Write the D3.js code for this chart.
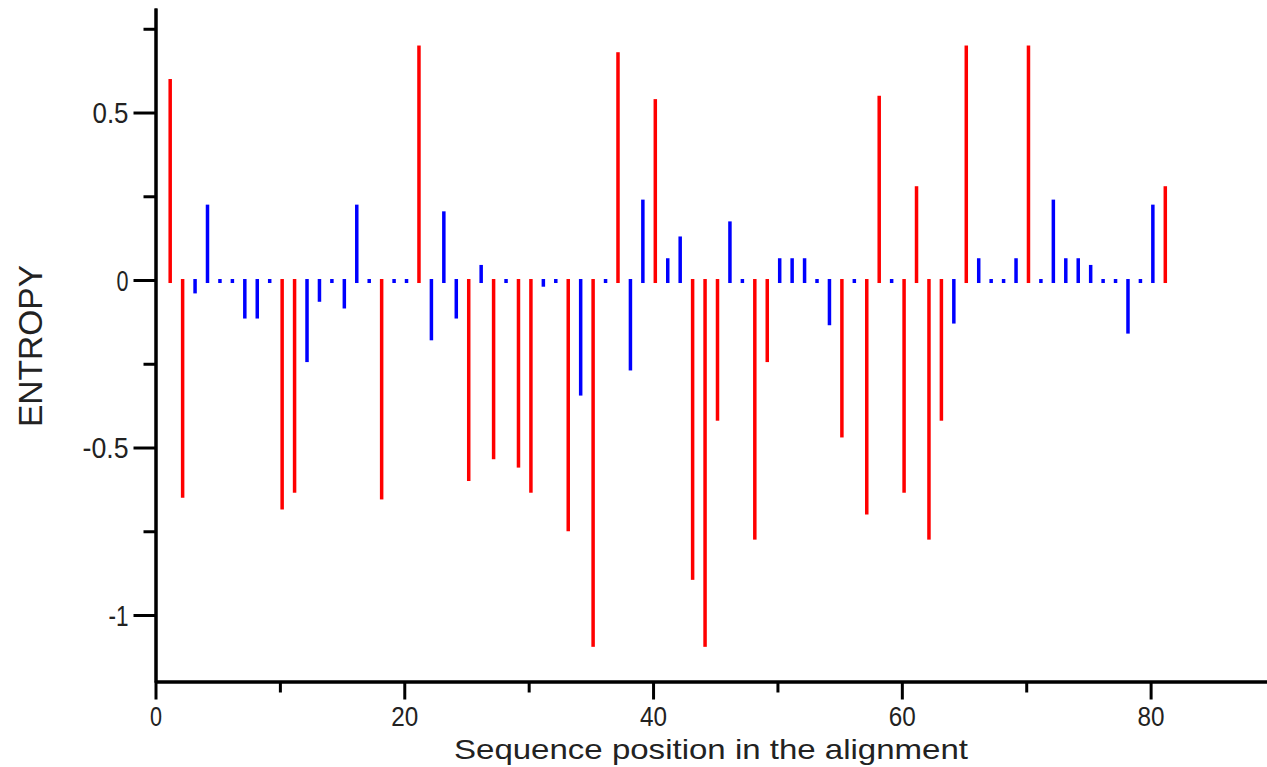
<!DOCTYPE html>
<html>
<head>
<meta charset="utf-8">
<script src="https://cdn.jsdelivr.net/npm/d3@7"></script>
<style>
  html, body { margin: 0; padding: 0; background: #fff; }
  svg { display: block; }
</style>
</head>
<body>
<div id="chart"></div>
<script>
// entropy per alignment position (positions 1..81)
const positions = d3.range(1, 82);
const entropy = [
   0.60, -0.65, -0.04,  0.225, 0,     0,    -0.115, -0.115, 0,    -0.685,
  -0.635,-0.245,-0.065, 0,    -0.085, 0.225, 0,    -0.655, 0,     0,
   0.70, -0.18,  0.205,-0.115,-0.60,  0.045,-0.535, 0,    -0.56, -0.635,
  -0.02,  0,    -0.75, -0.345,-1.095, 0,     0.68, -0.27,  0.24,  0.54,
   0.065, 0.13, -0.895,-1.095,-0.42,  0.175, 0,    -0.775,-0.245, 0.065,
   0.065, 0.065, 0,    -0.135,-0.47,  0,    -0.70,  0.55,  0,    -0.635,
   0.28, -0.775,-0.42, -0.13,  0.70,  0.065, 0,     0,     0.065, 0.70,
   0,     0.24,  0.065, 0.065, 0.045, 0,     0,    -0.16,  0,     0.225,
   0.28
];
// 1 = red (highlighted) position, 0 = blue
const highlighted = [
  1,1,0,0,0,0,0,0,0,1,
  1,0,0,0,0,0,0,1,0,0,
  1,0,0,0,1,0,1,0,1,1,
  0,0,1,0,1,0,1,0,0,1,
  0,0,1,1,1,0,0,1,1,0,
  0,0,0,0,1,0,1,1,0,1,
  1,1,1,0,1,0,0,0,0,1,
  0,0,0,0,0,0,0,0,0,0,
  1
];
const xMajor = [0, 20, 40, 60, 80];
const xMinor = [10, 30, 50, 70];
const yMajor = [-1, -0.5, 0, 0.5];
const yMinor = [-0.75, -0.25, 0.25, 0.75];
const yLabels = ['-1', '-0.5', '0', '0.5'];

const W = 1267, H = 767;
const svg = d3.select('#chart').append('svg')
    .attr('width', W).attr('height', H)
    .style('font-family', '"Liberation Sans", Arial, sans-serif');

const x = d3.scaleLinear().domain([0, 90]).range([155.5, 1275]);
const y = d3.scaleLinear().domain([-1.2, 0.812]).range([682, 8]);
const y0 = y(0);

// bars (zero values still show a small stub)
svg.append('g').selectAll('rect')
    .data(positions)
    .join('rect')
    .attr('x', (d) => x(d) + 0.5)
    .attr('width', 3.5)
    .attr('y', (d, i) => Math.min(y(entropy[i]), y0 - 1))
    .attr('height', (d, i) => Math.max(y(entropy[i]), y0 + 3) - Math.min(y(entropy[i]), y0 - 1))
    .attr('fill', (d, i) => highlighted[i] ? '#ff0000' : '#0000ff');

// y axis
const yAxisG = svg.append('g').attr('transform', 'translate(155.5,0)');
yAxisG.call(d3.axisLeft(y).tickValues(yMajor).tickSize(22).tickSizeOuter(0)
    .tickFormat((d, i) => yLabels[i]));
yAxisG.append('g').call(d3.axisLeft(y).tickValues(yMinor).tickSize(12).tickSizeOuter(0).tickFormat(''));
yAxisG.selectAll('path.domain').attr('stroke', '#000').attr('stroke-width', 3);
yAxisG.selectAll('.tick line').attr('stroke', '#000').attr('stroke-width', 3);
yAxisG.selectAll('.tick text')
    .attr('x', -27).attr('dy', '0.36em')
    .attr('font-size', 29).attr('fill', '#222')
    .attr('font-family', '"Liberation Sans", Arial, sans-serif')
    .each(function (d) {
        const len = d === 0 ? 12 : d === -1 ? 20 : d === 0.5 ? 36 : 46;
        d3.select(this).attr('textLength', len).attr('lengthAdjust', 'spacingAndGlyphs');
    });

// x axis
const xAxisG = svg.append('g').attr('transform', 'translate(0,681.5)');
xAxisG.call(d3.axisBottom(x).tickValues(xMajor).tickSize(18).tickSizeOuter(0));
xAxisG.append('g').call(d3.axisBottom(x).tickValues(xMinor).tickSize(11).tickSizeOuter(0).tickFormat(''));
xAxisG.selectAll('path.domain').attr('stroke', '#000').attr('stroke-width', 3);
xAxisG.selectAll('.tick line').attr('stroke', '#000').attr('stroke-width', 3);
xAxisG.selectAll('.tick text')
    .attr('y', 44.5).attr('dy', 0)
    .attr('font-size', 28).attr('fill', '#222')
    .attr('font-family', '"Liberation Sans", Arial, sans-serif')
    .each(function (d) {
        d3.select(this).attr('textLength', d === 0 ? 12 : 27).attr('lengthAdjust', 'spacingAndGlyphs');
    });

// axis titles
svg.append('text')
    .attr('x', 711).attr('y', 759)
    .attr('text-anchor', 'middle')
    .attr('font-size', 28).attr('fill', '#222')
    .attr('textLength', 514).attr('lengthAdjust', 'spacingAndGlyphs')
    .text('Sequence position in the alignment');

svg.append('text')
    .attr('transform', 'translate(42,346) rotate(-90)')
    .attr('text-anchor', 'middle')
    .attr('font-size', 34).attr('fill', '#222')
    .attr('textLength', 162).attr('lengthAdjust', 'spacingAndGlyphs')
    .text('ENTROPY');
</script>
</body>
</html>
